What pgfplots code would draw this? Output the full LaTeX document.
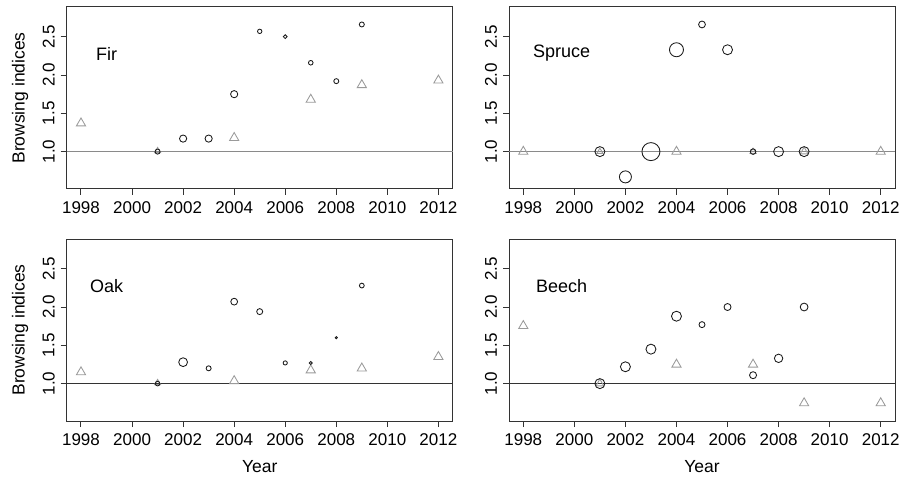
\documentclass[border=0pt]{standalone}
\usepackage{pgfplots}
\pgfplotsset{compat=1.18}
\usepackage{pgfplotstable}
\usepackage{fontspec}
\setmainfont{Liberation Sans}
\definecolor{axcol}{HTML}{333333}
\definecolor{tricol}{HTML}{9A9A9A}
\definecolor{hlgray}{HTML}{8A8A8A}
\definecolor{hldark}{HTML}{333333}

% Fir
\pgfplotstableread{
x y r
2001 1.00 2.5
2002 1.17 3.6
2003 1.17 3.6
2004 1.75 3.6
2005 2.57 2.2
2006 2.50 1.9
2007 2.16 2.3
2008 1.92 2.5
2009 2.66 2.5
}\firC
\pgfplotstableread{
x y r
1998 1.37 5.3
2001 1.01 3.5
2004 1.18 5.3
2007 1.68 5.3
2009 1.87 5.3
2012 1.93 5.3
}\firT
% Spruce
\pgfplotstableread{
x y r
2001 1.00 5.0
2002 0.67 6.0
2003 1.00 9.0
2004 2.33 7.0
2005 2.66 3.4
2006 2.33 5.0
2007 1.00 2.8
2008 1.00 5.0
2009 1.00 5.0
}\spruceC
\pgfplotstableread{
x y r
1998 1.00 5.3
2001 1.00 3.5
2004 1.00 5.3
2007 1.00 3.5
2009 1.00 4.5
2012 1.00 5.3
}\spruceT
% Oak
\pgfplotstableread{
x y r
2001 1.00 2.3
2002 1.28 4.4
2003 1.20 2.5
2004 2.07 3.4
2005 1.94 3.0
2006 1.27 2.1
2007 1.27 1.5
2008 1.60 1.1
2009 2.28 2.4
}\oakC
\pgfplotstableread{
x y r
1998 1.15 5.3
2001 1.01 3.5
2004 1.035 5.3
2007 1.175 5.3
2009 1.20 5.3
2012 1.35 5.3
}\oakT
% Beech
\pgfplotstableread{
x y r
2001 1.00 5.0
2002 1.22 5.0
2003 1.45 5.0
2004 1.88 5.0
2005 1.77 3.0
2006 2.00 3.5
2007 1.11 3.5
2008 1.33 4.2
2009 2.00 3.9
}\beechC
\pgfplotstableread{
x y r
1998 1.754 5.3
2001 1.00 4.5
2004 1.25 5.3
2007 1.25 5.3
2009 0.746 5.3
2012 0.746 5.3
}\beechT

\pgfplotsset{
  panel/.style={
    scale only axis, width=386pt, height=182pt,
    xmin=1997.44, xmax=2012.56, ymin=0.512, ymax=2.888,
    axis line style={axcol, line width=1pt},
    tick style={axcol, line width=1pt},
    tick align=outside, major tick length=6pt,
    xtick pos=bottom, ytick pos=left,
    xtick={1998,2000,...,2012},
    xticklabels={1998,2000,2002,2004,2006,2008,2010,2012},
    ytick={1,1.5,2,2.5},
    yticklabels={1.0,1.5,2.0,2.5},
    ticklabel style={font=\fontsize{17}{19}\selectfont, text=black},
    xticklabel style={anchor=center, yshift=-13pt},
    yticklabel style={xshift=-12pt, rotate=90, anchor=center},
    clip=false,
  },
  circ/.style={scatter, only marks, mark=o, line width=0.85pt,
    scatter/use mapped color={draw=black!90},
    visualization depends on={\thisrow{r} \as \rr},
    scatter/@pre marker code/.append style={/tikz/mark size=\rr pt},
    scatter/@post marker code/.append style={}},
  tri/.style={scatter, only marks, mark=triangle, line width=0.85pt,
    scatter/use mapped color={draw=tricol},
    visualization depends on={\thisrow{r} \as \rr},
    scatter/@pre marker code/.append style={/tikz/mark size=\rr pt},
    scatter/@post marker code/.append style={}},
  ylab/.style={ylabel={Browsing indices},
    every axis y label/.style={at={(rel axis cs:0,0.5)}, xshift=-46.7pt, rotate=90, anchor=center, font=\fontsize{17.5}{20}\selectfont}},
  xlab/.style={xlabel={Year},
    every axis x label/.style={at={(rel axis cs:0.5,0)}, yshift=-45.7pt, anchor=center, font=\fontsize{17.5}{20}\selectfont}},
}

\begin{document}
\begin{tikzpicture}
\useasboundingbox (0,0) rectangle (900pt,477pt);
% Fir
\begin{axis}[panel, ylab, at={(66.7pt,288pt)}, anchor=south west]
\addplot[hlgray, line width=0.8pt] coordinates {(1997.44,1) (2012.56,1)};
\addplot[tri] table[x=x,y=y] {\firT};
\addplot[circ] table[x=x,y=y] {\firC};
\node[font=\fontsize{18}{20}\selectfont] at (axis cs:1999.0,2.28) {Fir};
\end{axis}
% Spruce
\begin{axis}[panel, at={(509pt,288pt)}, anchor=south west]
\addplot[hlgray, line width=0.8pt] coordinates {(1997.44,1) (2012.56,1)};
\addplot[tri] table[x=x,y=y] {\spruceT};
\addplot[circ] table[x=x,y=y] {\spruceC};
\node[font=\fontsize{18}{20}\selectfont] at (axis cs:1999.5,2.28) {Spruce};
\end{axis}
% Oak
\begin{axis}[panel, ylab, xlab, at={(66.7pt,56pt)}, anchor=south west]
\addplot[hldark, line width=0.8pt] coordinates {(1997.44,1) (2012.56,1)};
\addplot[tri] table[x=x,y=y] {\oakT};
\addplot[circ] table[x=x,y=y] {\oakC};
\node[font=\fontsize{18}{20}\selectfont] at (axis cs:1999.0,2.28) {Oak};
\end{axis}
% Beech
\begin{axis}[panel, xlab, at={(509pt,56pt)}, anchor=south west]
\addplot[hldark, line width=0.8pt] coordinates {(1997.44,1) (2012.56,1)};
\addplot[tri] table[x=x,y=y] {\beechT};
\addplot[circ] table[x=x,y=y] {\beechC};
\node[font=\fontsize{18}{20}\selectfont] at (axis cs:1999.5,2.28) {Beech};
\end{axis}
\end{tikzpicture}
\end{document}
